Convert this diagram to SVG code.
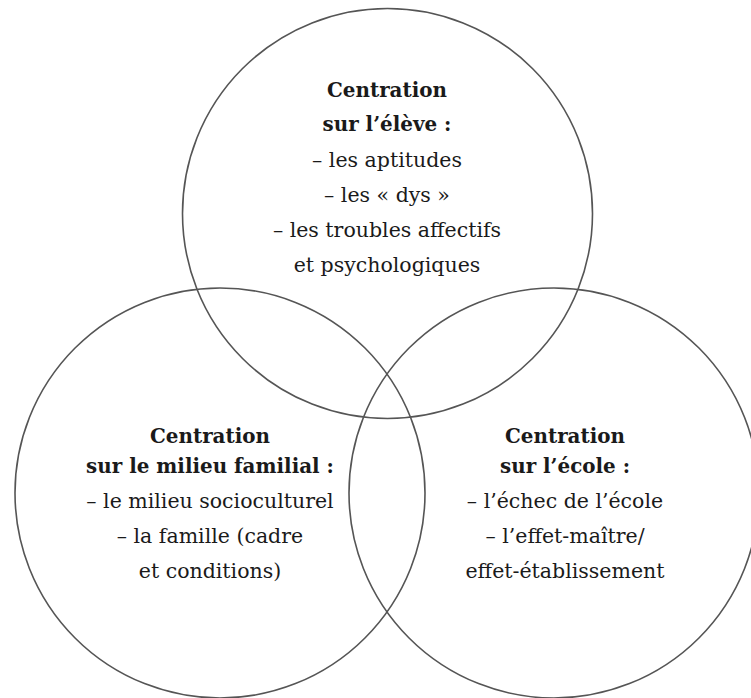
<svg xmlns="http://www.w3.org/2000/svg" width="751" height="698" viewBox="0 0 751 698">
<style>
.c{fill:none;stroke:#555;stroke-width:1.6}
text{font-family:"DejaVu Serif","Liberation Serif",serif;fill:#1a1a1a;text-anchor:middle}
.h{font-weight:bold;font-size:19.9px}
.b{font-size:20.5px}
</style>
<rect width="751" height="698" fill="#fff"/>
<g id="eleve">
<circle class="c" cx="387.5" cy="213.5" r="205"/>
<text class="h" x="387" y="97">Centration</text>
<text class="h" x="387" y="131">sur l’élève :</text>
<text class="b" x="387" y="167">– les aptitudes</text>
<text class="b" x="387" y="202">– les « dys »</text>
<text class="b" x="387" y="237">– les troubles affectifs</text>
<text class="b" x="387" y="272">et psychologiques</text>
</g>
<g id="familial">
<circle class="c" cx="220" cy="493" r="205"/>
<text class="h" x="210" y="443">Centration</text>
<text class="h" x="210" y="473">sur le milieu familial :</text>
<text class="b" x="210" y="508">– le milieu socioculturel</text>
<text class="b" x="210" y="543">– la famille (cadre</text>
<text class="b" x="210" y="578">et conditions)</text>
</g>
<g id="ecole">
<circle class="c" cx="554" cy="493" r="205"/>
<text class="h" x="565" y="443">Centration</text>
<text class="h" x="565" y="473">sur l’école :</text>
<text class="b" x="565" y="508">– l’échec de l’école</text>
<text class="b" x="565" y="543">– l’effet-maître/</text>
<text class="b" x="565" y="578">effet-établissement</text>
</g>
<g id="connectors"/>
</svg>
